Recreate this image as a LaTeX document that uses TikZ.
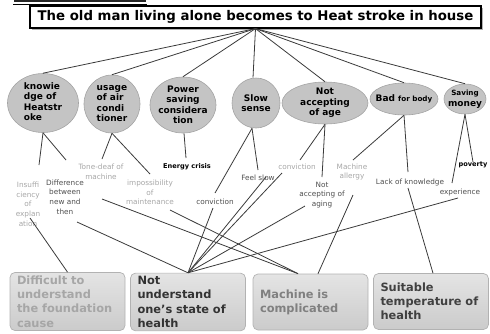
\documentclass[tikz,border=0pt]{standalone}
\usepackage{fontspec}
\setmainfont{DejaVu Sans}
\usetikzlibrary{shapes.geometric}
\definecolor{ovalfill}{HTML}{C4C4C4}
\definecolor{ovaldraw}{HTML}{A4A4A4}
\definecolor{linkc}{HTML}{3A3A3A}
\definecolor{faintc}{HTML}{A6A6A6}
\definecolor{darkc}{HTML}{4E4E4E}
\definecolor{boxtop}{HTML}{E4E4E4}
\definecolor{boxbot}{HTML}{CBCBCB}
\definecolor{boxdraw}{HTML}{B2B2B2}
\begin{document}
\begin{tikzpicture}[x=1pt,y=-1pt,
  link/.style={draw=linkc, line width=0.8pt},
  oval/.style={ellipse, fill=ovalfill, draw=ovaldraw, line width=0.6pt,
    inner sep=-6pt, align=center, font=\bfseries\fontsize{9}{10.5}\selectfont},
  lbl/.style={inner sep=0pt, align=center, font=\fontsize{7.3}{9.7}\selectfont},
  faint/.style={lbl, text=faintc},
  plainlbl/.style={lbl, text=darkc},
  boldlbl/.style={inner sep=0pt, font=\bfseries\fontsize{6.6}{8}\selectfont},
  result/.style={rounded corners=5pt, draw=boxdraw, line width=0.7pt,
    top color=boxtop, bottom color=boxbot, minimum width=115, minimum height=56,
    text width=101, inner xsep=7, align=left,
    font=\bfseries\fontsize{11.4}{14.2}\selectfont}]
\useasboundingbox (0,0) rectangle (490,333);

% clipped heading above the title
\fill[black!85] (14,0) rectangle (146,1.6);
\draw[line width=1pt] (13,4) -- (147,4);

% title
\fill[black!30] (31.5,7.5) rectangle (482.5,29.5);
\node[draw, line width=1.2pt, fill=white, minimum width=451, minimum height=22,
  inner sep=0pt, font=\bfseries\fontsize{13.3}{15}\selectfont] (title) at (255.5,17)
  {The old man living alone becomes to Heat stroke in house};

% causes
\node[oval, minimum width=71, minimum height=59] (e1) at (43,103)
  {\begin{tabular}{@{}l@{}}knowie\\dge of\\Heatstr\\oke\end{tabular}};
\node[oval, minimum width=56, minimum height=58] (e2) at (112,104)
  {\begin{tabular}{@{}l@{}}usage\\of air\\condi\\tioner\end{tabular}};
\node[oval, minimum width=66, minimum height=56] (e3) at (183,105)
  {Power\\saving\\considera\\tion};
\node[oval, minimum width=48, minimum height=50] (e4) at (256,103) {Slow\\sense};
\node[oval, minimum width=86, minimum height=42] (e5) at (325,103)
  {Not\\accepting\\of age};
\node[oval, minimum width=68, minimum height=32] (e6) at (404,99)
  {Bad {\fontsize{7.2}{8}\selectfont for body}};
\node[oval, minimum width=42, minimum height=30] (e7) at (465,99)
  {{\fontsize{7.2}{8}\selectfont Saving}\\money};

% reasons
\node[faint] (ins) at (28,204) {Insuffi\\ciency\\of\\explan\\ation};
\node[plainlbl] (diff) at (65,197) {Difference\\between\\new and\\then};
\node[faint] (tone) at (101,171.5) {Tone-deaf of\\machine};
\node[faint] (imp) at (150,192.5) {impossibility\\of\\maintenance};
\node[boldlbl] (energy) at (187,167) {Energy crisis};
\node[plainlbl] (conv1) at (215,202) {conviction};
\node[plainlbl] (feel) at (258,178) {Feel slow};
\node[faint] (conv2) at (297,167) {conviction};
\node[plainlbl] (notag) at (322,195) {Not\\accepting of\\aging};
\node[faint] (mach) at (352,172) {Machine\\allergy};
\node[plainlbl] (lack) at (410,182) {Lack of knowledge};
\node[boldlbl] (pov) at (473,165) {poverty};
\node[plainlbl] (exper) at (460,192) {experience};

% results
\node[result, text=faintc] (b1) at (67.5,301.5)
  {Difficult to\\understand\\the foundation\\cause};
\node[result, text=black!80] (b2) at (188,302)
  {Not\\understand\\one’s state of\\health};
\node[result, text=black!50] (b3) at (310.5,302) {Machine is\\complicated};
\node[result, text=black!75] (b4) at (431,301.5)
  {Suitable\\temperature of\\health};

% title to causes
\foreach \e in {e1,e2,e3,e5,e6,e7}
  \draw[link] (title.south) -- (\e.north);
\draw[link] (title.south) -- ([xshift=-3pt]e4.north);

% causes to reasons
\draw[link] (e1.south) -- ([shift={(11,-39)}]ins.center);
\draw[link] (e1.south) -- ([shift={(1,-37)}]diff.center);
\draw[link] (e2.south) -- ([shift={(1,-12.5)}]tone.center);
\draw[link] (e2.south) -- ([shift={(0,-18.5)}]imp.center);
\draw[link] ([xshift=1pt]e3.south) -- ([shift={(-1,-9)}]energy.center);
\draw[link] ([xshift=-4pt]e4.south) -- ([shift={(0,-9)}]conv1.center);
\draw[link] ([xshift=-4pt]e4.south) -- ([shift={(0,-8)}]feel.center);
\draw[link] (e5.south) -- ([shift={(3,-7)}]conv2.center);
\draw[link] (e5.south) -- ([shift={(0,-18)}]notag.center);
\draw[link] (e6.south) -- ([shift={(1,-12)}]mach.center);
\draw[link] (e6.south) -- ([shift={(-2,-10)}]lack.center);
\draw[link] (e7.south) -- ([shift={(-8,-9)}]exper.center);
\draw[link] (e7.south) -- ([shift={(0,-3)}]pov.center);

% reasons to results
\draw[link] ([shift={(2,14)}]ins.center) -- (b1.north);
\draw[link] ([shift={(12,25)}]diff.center) -- (b2.north);
\draw[link] ([shift={(-2,6)}]conv1.center) -- (b2.north);
\draw[link] ([shift={(8,-1)}]feel.center) -- (b2.north);
\draw[link] ([shift={(-15,6)}]conv2.center) -- (b2.north);
\draw[link] ([shift={(-17,11)}]notag.center) -- (b2.north);
\draw[link] ([shift={(-2,6)}]exper.center) -- (b2.north);
\draw[link] ([shift={(1,27.5)}]tone.center) -- ([xshift=-12.5pt]b3.north);
\draw[link] ([shift={(20,17.5)}]imp.center) -- ([xshift=-12.5pt]b3.north);
\draw[link] ([shift={(1,23)}]mach.center) -- ([xshift=7.5pt]b3.north);
\draw[link] ([shift={(-2,6)}]lack.center) -- ([xshift=2pt]b4.north);
\end{tikzpicture}
\end{document}
